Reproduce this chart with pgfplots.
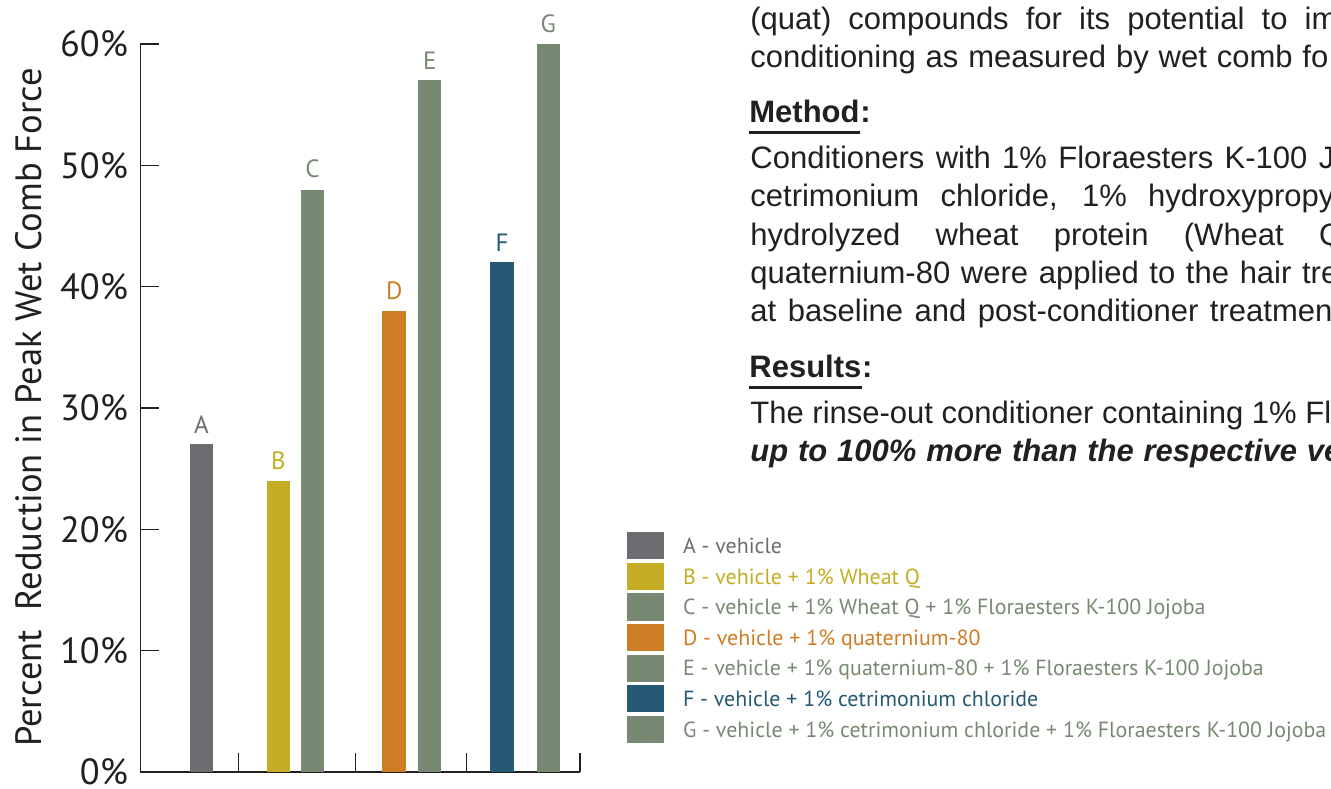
\documentclass[border=0pt]{standalone}
\usepackage{pgfplots}
\pgfplotsset{compat=1.18}
\usepackage{fontspec}
\setmainfont{PT Sans}
\newfontfamily\arialfont{Liberation Sans}
\definecolor{colA}{RGB}{108,108,113}
\definecolor{colB}{RGB}{196,172,36}
\definecolor{colC}{RGB}{120,137,115}
\definecolor{colD}{RGB}{205,125,36}
\definecolor{colF}{RGB}{37,89,116}
\definecolor{textcol}{RGB}{35,31,32}
\newdimen\pxu \pxu=0.5pt
\newcommand\rtext{\arialfont\fontsize{15.5}{19}\selectfont\color{textcol}}
\pgfplotsset{legsq/.style={legend image code/.code={\fill[#1] (0pt,-6.8pt) rectangle (18.5pt,6.8pt);}}}
\begin{document}
\begin{tikzpicture}[x=0.5pt,y=-0.5pt]
\useasboundingbox (0,0) rectangle (1331,788);
\begin{axis}[
  at={(70.15pt,-386pt)}, anchor=south west,
  scale only axis, width=219.85pt, height=364pt,
  xmin=140.3, xmax=580, ymin=0, ymax=60,
  clip=false,
  axis x line=bottom, axis y line=left,
  axis line style={-, line width=0.7pt, draw=textcol},
  tick style={line width=0.7pt, draw=textcol},
  tick align=inside, major tick length=9.5pt,
  xtick={238.6,355.6,466.5,580}, xticklabels={},
  ytick={0,10,20,30,40,50,60},
  yticklabel={\pgfmathprintnumber{\tick}\%},
  /pgf/number format/assume math mode=true,
  yticklabel style={font=\fontsize{18.2}{18.2}\selectfont, text=textcol, inner sep=0pt, xshift=-6pt},
  ylabel={Percent\ \ Reduction in Peak Wet Comb Force},
  every axis y label/.style={at={(axis description cs:-0.2247,0.5007)}, anchor=base, rotate=90, font=\fontsize{18.3}{18.3}\selectfont, text=textcol},
  every node near coord/.append style={anchor=south, inner sep=0pt, yshift=5.5pt, font=\fontsize{12.5}{12.5}\selectfont},
  legend style={at={(1.1062,0.3293)}, anchor=north west, draw=none, fill=none, inner sep=0pt, outer sep=0pt, row sep=1.7pt, column sep=9.65pt, nodes={inner sep=0pt, text height=7.6pt, text depth=0pt}, font=\fontsize{10.95}{10.95}\selectfont},
  legend cell align=left,
]
\addplot[ybar, bar shift=0pt, bar width=11.75pt, fill=colA, draw=none, nodes near coords={\textcolor{colA}{A}}, legsq=colA] coordinates {(201.5,27)};
\addlegendentry{\textcolor{colA}{A - vehicle}}
\addplot[ybar, bar shift=0pt, bar width=11.75pt, fill=colB, draw=none, nodes near coords={\textcolor{colB}{B}}, legsq=colB] coordinates {(278.3,24)};
\addlegendentry{\textcolor{colB}{B - vehicle + 1\% Wheat Q}}
\addplot[ybar, bar shift=0pt, bar width=11.75pt, fill=colC, draw=none, nodes near coords={\textcolor{colC}{C}}, legsq=colC] coordinates {(312.5,48)};
\addlegendentry{\textcolor{colC}{C - vehicle + 1\% Wheat Q + 1\% Floraesters K-100 Jojoba}}
\addplot[ybar, bar shift=0pt, bar width=11.75pt, fill=colD, draw=none, nodes near coords={\textcolor{colD}{D}}, legsq=colD] coordinates {(394.2,38)};
\addlegendentry{\textcolor{colD}{D - vehicle + 1\% quaternium-80}}
\addplot[ybar, bar shift=0pt, bar width=11.75pt, fill=colC, draw=none, nodes near coords={\textcolor{colC}{E}}, legsq=colC] coordinates {(429.7,57)};
\addlegendentry{\textcolor{colC}{E - vehicle + 1\% quaternium-80 + 1\% Floraesters K-100 Jojoba}}
\addplot[ybar, bar shift=0pt, bar width=11.75pt, fill=colF, draw=none, nodes near coords={\textcolor{colF}{F}}, legsq=colF] coordinates {(502.1,42)};
\addlegendentry{\textcolor{colF}{F - vehicle + 1\% cetrimonium chloride}}
\addplot[ybar, bar shift=0pt, bar width=11.75pt, fill=colC, draw=none, nodes near coords={\textcolor{colC}{G}}, legsq=colC] coordinates {(548.3,60)};
\addlegendentry{\textcolor{colC}{G - vehicle + 1\% cetrimonium chloride + 1\% Floraesters K-100 Jojoba}}
\end{axis}
\begin{scope}
\clip (0,0) rectangle (1331,788);
\tikzset{every node/.style={anchor=base west, inner sep=0pt, font=\rtext}}
\node at (750,29) {\makebox[587\pxu][s]{(quat) compounds for its potential to im}};
\node at (750,67) {\makebox[578\pxu][s]{conditioning as measured by wet comb fo}};
\node[font=\rtext\bfseries] (m) at (749,122) {Method};
\node[font=\rtext\bfseries] at (m.base east) {:};
\draw[line width=1.5pt, textcol] ([yshift=-5pt]m.base west) -- ([yshift=-5pt]m.base east);
\node at (750,168) {\makebox[584\pxu][s]{Conditioners with 1\% Floraesters K-100 J}};
\node at (750,206) {\makebox[584\pxu][s]{cetrimonium chloride, 1\% hydroxypropy}};
\node at (750,245) {\makebox[593\pxu][s]{hydrolyzed wheat protein (Wheat Q}};
\node at (750,283) {\makebox[588\pxu][s]{quaternium-80 were applied to the hair tre}};
\node at (750,321) {\makebox[582\pxu][s]{at baseline and post-conditioner treatmen}};
\node[font=\rtext\bfseries] (r) at (749,377) {Results};
\node[font=\rtext\bfseries] at (r.base east) {:};
\draw[line width=1.5pt, textcol] ([yshift=-5pt]r.base west) -- ([yshift=-5pt]r.base east);
\node at (750,423) {\makebox[581\pxu][s]{The rinse-out conditioner containing 1\% Fl}};
\node at (750,461) {\makebox[591\pxu][s]{\bfseries\itshape up to 100\% more than the respective ve}};
\end{scope}
\end{tikzpicture}
\end{document}
